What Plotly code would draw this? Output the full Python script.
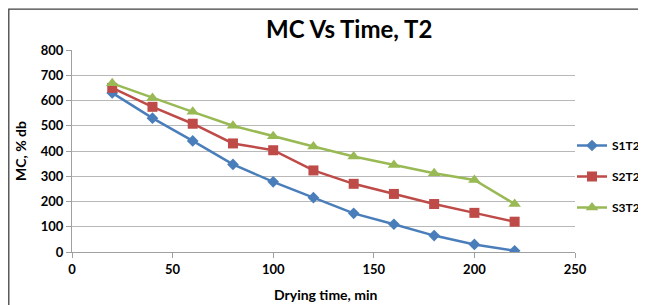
import plotly.graph_objects as go

time_min = [20, 40, 60, 80, 100, 120, 140, 160, 180, 200, 220]
s1t2 = [630, 530, 440, 347, 278, 215, 153, 110, 65, 30, 5]
s2t2 = [650, 575, 508, 430, 403, 323, 270, 230, 190, 155, 120]
s3t2 = [668, 610, 555, 500, 458, 418, 378, 345, 312, 285, 190]
series_names = ["S1T2", "S2T2", "S3T2"]
x_ticks = [0, 50, 100, 150, 200, 250]
y_ticks = [0, 100, 200, 300, 400, 500, 600, 700, 800]

# page has an 8px body margin, so figure coords = page coords - 8
W, H = 638, 297
L, R, T, B = 64, 71, 42, 53
pw, ph = W - L - R, H - T - B

def px(x):
    return (x - L) / pw

def py(y):
    return (H - B - y) / ph

fig = go.Figure()
styles = [
    ("#4A7EBB", "diamond", 9),
    ("#BE4B48", "square", 10),
    ("#98B954", "triangle-up", 11),
]
for name, ys, (col, sym, sz) in zip(series_names, [s1t2, s2t2, s3t2], styles):
    fig.add_trace(go.Scatter(
        x=time_min, y=ys, name=name, mode="lines+markers", legendgroup=name,
        line=dict(color=col, width=2.5),
        marker=dict(symbol=sym, size=sz, color=col),
    ))

font = "Lato, 'Open Sans', sans-serif"
fig.update_layout(
    width=W, height=H,
    margin=dict(l=L, r=R, t=T, b=B, autoexpand=False),
    paper_bgcolor="white", plot_bgcolor="white",
    font=dict(family=font, color="black"),
    title=dict(text="MC Vs Time, T2", x=px(333), xanchor="center",
               y=1 - 22 / H, yanchor="middle",
               font=dict(size=24, family=font, weight="bold")),
    showlegend=True,
    legend=dict(x=px(564), xanchor="left", y=py(123), yanchor="top",
                font=dict(size=12, family=font, weight="bold"), tracegroupgap=12,
                itemwidth=30, bgcolor="rgba(0,0,0,0)"),
    xaxis=dict(range=[0, 250], tickvals=x_ticks, showgrid=False, automargin=False,
               showline=True, linecolor="#A0A0A0", ticks="outside",
               tickcolor="#A0A0A0", ticklen=5, zeroline=False,
               tickfont=dict(size=13, family=font, weight="bold")),
    yaxis=dict(range=[0, 800], tickvals=y_ticks, showgrid=True, automargin=False,
               gridcolor="#B8B8B8", gridwidth=1,
               showline=True, linecolor="#A0A0A0", ticks="outside",
               tickcolor="#A0A0A0", ticklen=5, zeroline=False,
               tickfont=dict(size=13, family=font, weight="bold")),
    annotations=[
        dict(text="Drying time, min", xref="paper", yref="paper",
             x=px(318), y=py(286), xanchor="center", yanchor="middle",
             showarrow=False, font=dict(size=14, weight="bold")),
        dict(text="MC, % db", xref="paper", yref="paper", textangle=-90,
             x=px(12), y=py(143), xanchor="center", yanchor="middle",
             showarrow=False, font=dict(size=14, weight="bold")),
    ],
)

# outer chart frame
fig.add_shape(type="rect", xref="paper", yref="paper",
              x0=px(0.8), x1=px(700), y0=py(400), y1=py(1.2),
              line=dict(color="#404040", width=1.3), fillcolor="rgba(0,0,0,0)",
              layer="below")

fig.write_html("out.html")
